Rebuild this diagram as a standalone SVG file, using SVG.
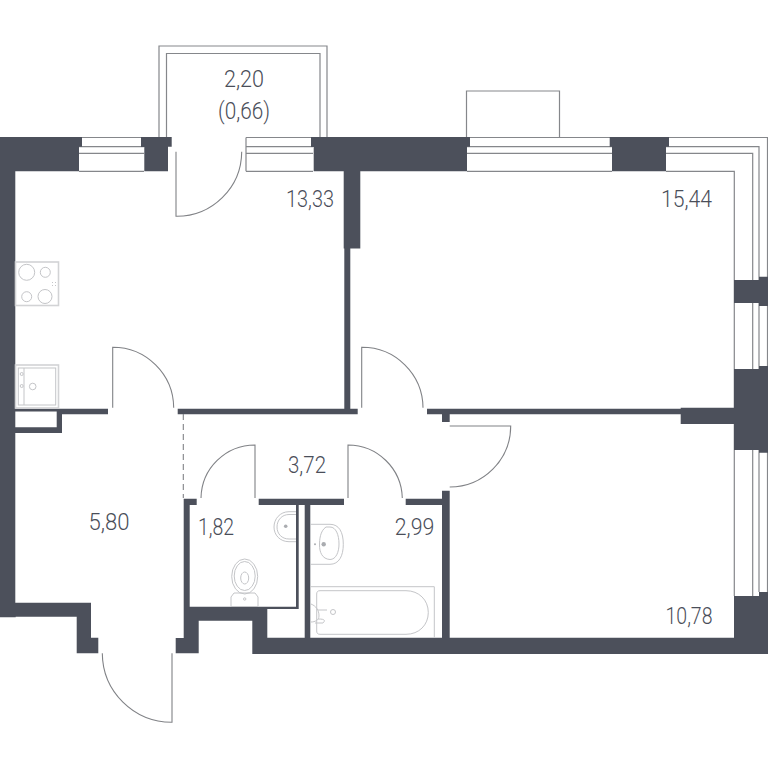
<svg xmlns="http://www.w3.org/2000/svg" width="768" height="768" viewBox="0 0 768 768">
<style>
.w{fill:#4c505b;stroke:none}
.l{fill:none;stroke:#85878b;stroke-width:1.2}
.d{fill:none;stroke:#808286;stroke-width:1.1}
.f{fill:none;stroke:#c4c5c8;stroke-width:1}
.f2{fill:none;stroke:#d2d3d5;stroke-width:1.6}
.t{font-family:"Roboto","Liberation Sans",sans-serif;font-weight:300;font-size:23px;fill:#4a4e59;text-anchor:middle}
</style>
<rect width="768" height="768" fill="#fff"/>
<g id="balcony-and-windows">
<path class="l" d="M159 137V46H327V137M166.500 137V53.500H320V137"/>
<path class="l" d="M466.500 137V91H559.500V137"/>
<path class="l" d="M79 137.500H144M79 146.700H144M79 153.300H144M79 171.300H144"/>
<path class="l" d="M246 137.500V171.300M246 137.500H313M246 146.700H313M246 153.300H313M246 171.300H313"/>
<path class="l" d="M467 137.500H612M467 146.700H612M467 153.300H612M467 171.300H612"/>
<path class="l" d="M666 137.500H767.500V592M666 146.700H759V592M666 153.300H752.700V596M666 171.300H734.300V596"/>
</g>
<g id="walls">
<path class="w" d="M0 137H82V146.700H79V171.300H15.300V602.700H91V637.700H98.300V653.300H76.700V616.700H15.700V617.300H0Z"/>
<path class="w" d="M141 137H171.700V146.700H168V171.300H144.300V147H141Z"/>
<path class="w" d="M311 137H470V146.700H467V171.300H360.300V248.500H350.300V408.700H357.700V414.300H177.700V408.700H344.300V248.500H343.700V171.300H313.700V147H311Z"/>
<path class="w" d="M609.700 137H669V146.700H666V171.300H612V146.700H609.700Z"/>
<path class="w" d="M734 280H759V276.700H768V306H759V303H734Z"/>
<path class="w" d="M734 369H759V366H768V452.700H759V450H734V424H680.700V414.300H449.700V422H442V414.300H427V408.700H680.700V407.700H734Z"/>
<path class="w" d="M734 596H759V592H768V654H252.300V620.700H198.700V653.300H175.700V638H183.700V498.700H196.700V505H189.700V606.700H296V505H258.700V498.700H344V505H310.300V637.700H442V505H405.700V498.700H442V490.700H449.700V637.700H734ZM298.700 505V609H267.300V637.700H304.700V505Z" fill-rule="evenodd"/>
<path class="w" d="M15 408.700H108V414.300H62V433H15V427.300H56.700V411.500H15Z"/>
</g>
<g id="doors">
<path class="d" d="M176 151.700V216.300A65 65 0 0 0 241.700 151.700"/>
<path class="d" d="M112.700 407.700V347.300A61 61 0 0 1 173.700 407.700"/>
<path class="d" d="M361.700 407.700V347.300A61 61 0 0 1 423 407.700"/>
<path class="d" d="M449.700 426H510.700A61 61 0 0 1 449.700 487"/>
<path class="d" d="M348 498V445A54.500 54.500 0 0 1 402.300 498"/>
<path class="d" d="M255 498V445A54 54 0 0 0 201 498"/>
<path class="d" d="M172 653.300V722.300A69.500 69.500 0 0 1 102.300 653.300"/>
<path class="d" stroke-dasharray="6 4" d="M183.300 414V498"/>
</g>
<g id="kitchen-fixtures">
<rect class="f2" x="15.500" y="262" width="43" height="43.500"/>
<circle class="f" cx="26.700" cy="272.300" r="8"/><circle class="f" cx="45.300" cy="272.300" r="5"/>
<circle class="f" cx="26.700" cy="296.700" r="5"/><circle class="f" cx="45" cy="296.500" r="7"/>
<path class="f" stroke-dasharray="1 2" d="M52 282.500H56M52 285.500H56"/>
<rect class="f2" x="15.500" y="365" width="43" height="43"/>
<rect class="f" x="18.300" y="368" width="37.400" height="37"/>
<path class="f" d="M24 368V405"/>
<circle class="f" cx="32.700" cy="386.500" r="3.300"/><circle class="f" cx="21.700" cy="374" r="1.500"/><circle class="f" cx="21.700" cy="386" r="1.500"/>
</g>
<g id="wc-fixtures">
<path class="f" d="M296 511.700H289C280 511.700 274 519 274 527C274 535 280 541.700 289 541.700H296"/>
<path class="f" d="M296 514.500H289C282 514.500 277 520 277 527C277 534 282 539 289 539H296"/>
<circle cx="285.700" cy="526.300" r="1.800" fill="#aaacb0"/>
<ellipse class="f" cx="244.700" cy="576.500" rx="13" ry="17.500"/>
<ellipse class="f" cx="244.700" cy="576" rx="10.500" ry="14.500"/>
<ellipse class="f" cx="244.700" cy="578" rx="4" ry="6"/>
<path class="f" d="M234 593H255L258 597V606.500H231V597Z"/>
<circle class="f" cx="244.700" cy="599" r="1.200"/>
</g>
<g id="bath-fixtures">
<path class="f" d="M310.300 524.300H330C339 524.300 343.300 532 343.300 544.300C343.300 556 339 564.300 330 564.300H310.300"/>
<path class="f" d="M330 527H326C320 531 319.500 540 319.500 545C319.500 552 322 559 330 559.500C336 559.500 339 552 339 544C339 535 336 527 330 527Z"/>
<circle cx="323.700" cy="544.300" r="2.200" fill="#aaacb0"/><circle cx="315" cy="544.300" r="1" fill="#aaacb0"/>
<path class="f" d="M310.300 586.700H434.300V637.500"/>
<path class="f" d="M320 590.700H406C419 590.700 428.300 600 428.300 612.500C428.300 625 419 634.300 406 634.300H320C317.500 634.300 316.700 633 316.700 631V594C316.700 592 317.500 590.700 320 590.700Z"/>
<path class="f" d="M311 604C316 606 319 610 319 616C319 620 315 622 311 622M318 610H327M318 619C324 619 326 620 323 623H315"/>
<circle class="f" cx="333" cy="612" r="2.500"/>
</g>
<g id="labels">
<text class="t" x="244" y="86.500" textLength="40" lengthAdjust="spacingAndGlyphs">2,20</text>
<text class="t" x="244" y="118.500" textLength="52" lengthAdjust="spacingAndGlyphs">(0,66)</text>
<text class="t" x="310" y="206.800" textLength="48" lengthAdjust="spacingAndGlyphs">13,33</text>
<text class="t" x="686.500" y="206.800" textLength="51" lengthAdjust="spacingAndGlyphs">15,44</text>
<text class="t" x="109" y="530" textLength="41" lengthAdjust="spacingAndGlyphs">5,80</text>
<text class="t" x="216" y="535" textLength="36" lengthAdjust="spacingAndGlyphs">1,82</text>
<text class="t" x="307" y="472.500" textLength="38" lengthAdjust="spacingAndGlyphs">3,72</text>
<text class="t" x="414.500" y="535" textLength="39.500" lengthAdjust="spacingAndGlyphs">2,99</text>
<text class="t" x="689" y="624" textLength="47" lengthAdjust="spacingAndGlyphs">10,78</text>
</g>
</svg>
